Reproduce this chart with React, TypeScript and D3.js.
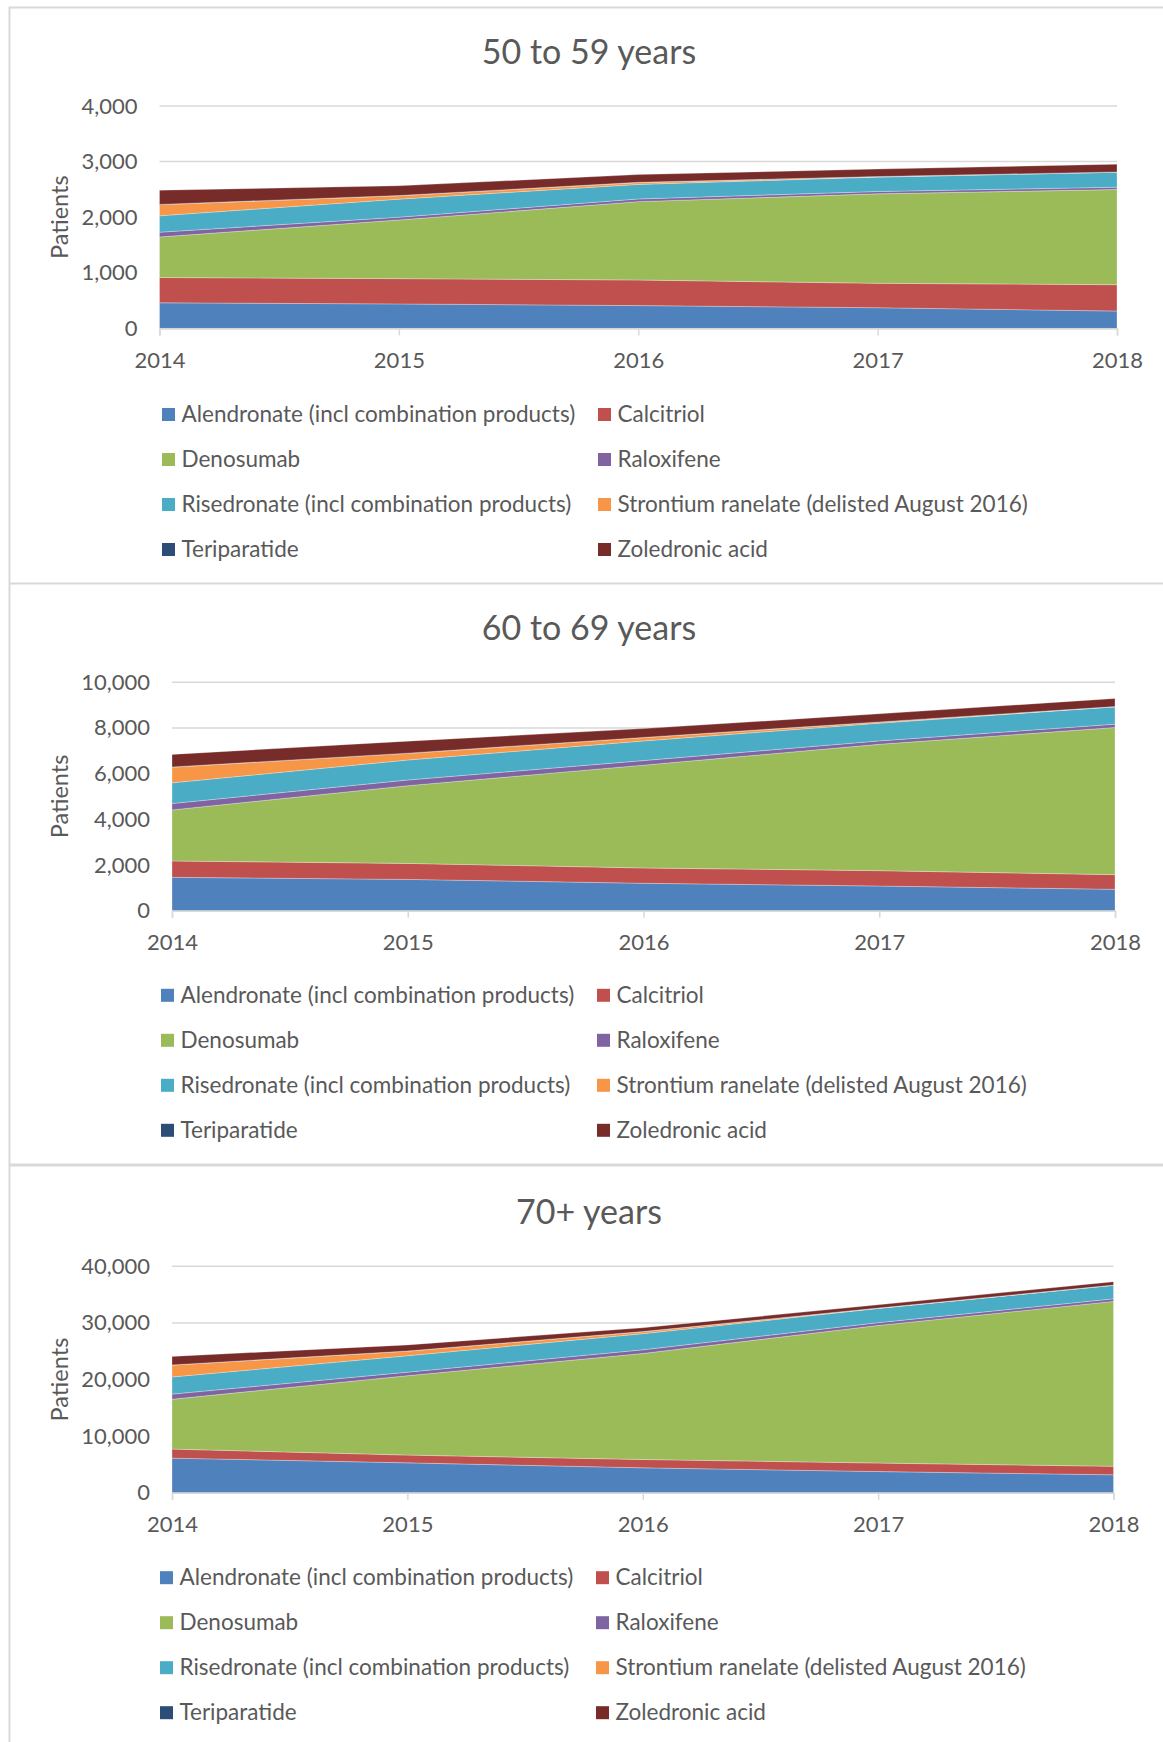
import React, { useEffect, useRef } from "react";
import * as d3 from "d3";

const years = [2014, 2015, 2016, 2017, 2018];

const seriesNames = [
  "Alendronate (incl combination products)",
  "Calcitriol",
  "Denosumab",
  "Raloxifene",
  "Risedronate (incl combination products)",
  "Strontium ranelate (delisted August 2016)",
  "Teriparatide",
  "Zoledronic acid",
];

const seriesColors = [
  "#4F81BD",
  "#C0504D",
  "#9BBB59",
  "#8064A2",
  "#4BACC6",
  "#F79646",
  "#2C4D75",
  "#772C2A",
];

// 50 to 59 years
const alendronate50 = [460, 440, 410, 372, 312];
const calcitriol50 = [455, 455, 460, 439, 474];
const denosumab50 = [730, 1055, 1410, 1609, 1712];
const raloxifene50 = [85, 50, 48, 42, 42];
const risedronate50 = [295, 325, 262, 259, 269];
const strontium50 = [200, 60, 32, 5, 0];
const teriparatide50 = [5, 5, 5, 5, 5];
const zoledronic50 = [255, 175, 140, 135, 140];
const yTicks50 = [0, 1000, 2000, 3000, 4000];

// 60 to 69 years
const alendronate60 = [1460, 1370, 1200, 1080, 935];
const calcitriol60 = [715, 700, 670, 672, 642];
const denosumab60 = [2235, 3400, 4500, 5530, 6440];
const raloxifene60 = [280, 250, 200, 150, 146];
const risedronate60 = [905, 875, 860, 775, 760];
const strontium60 = [685, 290, 145, 45, 0];
const teriparatide60 = [10, 10, 10, 10, 10];
const zoledronic60 = [550, 525, 385, 355, 355];
const yTicks60 = [0, 2000, 4000, 6000, 8000, 10000];

// 70+ years
const alendronate70 = [6120, 5290, 4410, 3750, 3180];
const calcitriol70 = [1600, 1370, 1470, 1500, 1500];
const denosumab70 = [8800, 14020, 18720, 24300, 29120];
const raloxifene70 = [910, 620, 650, 500, 450];
const risedronate70 = [3020, 2900, 2850, 2500, 2400];
const strontium70 = [2100, 810, 350, 50, 0];
const teriparatide70 = [30, 30, 30, 30, 30];
const zoledronic70 = [1510, 1080, 670, 570, 590];
const yTicks70 = [0, 10000, 20000, 30000, 40000];

const panels = [
  {
    title: "50 to 59 years",
    values: [alendronate50, calcitriol50, denosumab50, raloxifene50, risedronate50, strontium50, teriparatide50, zoledronic50],
    ticks: yTicks50,
    titleY: 50,
    top: 106,
    bottom: 328.4,
    left: 159.5,
    right: 1117,
    legendY: 414.5,
    legendX: [162, 598],
  },
  {
    title: "60 to 69 years",
    values: [alendronate60, calcitriol60, denosumab60, raloxifene60, risedronate60, strontium60, teriparatide60, zoledronic60],
    ticks: yTicks60,
    titleY: 626,
    top: 682.2,
    bottom: 910.7,
    left: 172,
    right: 1115,
    legendY: 995.3,
    legendX: [161, 597],
  },
  {
    title: "70+ years",
    values: [alendronate70, calcitriol70, denosumab70, raloxifene70, risedronate70, strontium70, teriparatide70, zoledronic70],
    ticks: yTicks70,
    titleY: 1210,
    top: 1266.3,
    bottom: 1492.8,
    left: 172,
    right: 1113.5,
    legendY: 1577.7,
    legendX: [160, 596],
  },
];

const FONT = "Lato, 'Open Sans', sans-serif";
const TEXT = "#595959";
const GRID = "#d9d9d9";

const App = () => {
  const svgRef = useRef<SVGSVGElement>(null);

  useEffect(() => {
    const svg = d3.select(svgRef.current);
    svg.selectAll("*").remove();

    // panel frames
    const frame = svg.append("g").attr("stroke", GRID).attr("fill", "none");
    frame.append("line").attr("x1", 9).attr("x2", 1163).attr("y1", 7.5).attr("y2", 7.5).attr("stroke-width", 2);
    frame.append("line").attr("x1", 9.5).attr("x2", 9.5).attr("y1", 7).attr("y2", 1742).attr("stroke-width", 2);
    frame.append("line").attr("x1", 9).attr("x2", 1163).attr("y1", 583.5).attr("y2", 583.5).attr("stroke-width", 2);
    frame.append("line").attr("x1", 9).attr("x2", 1163).attr("y1", 1165).attr("y2", 1165).attr("stroke-width", 3);

    panels.forEach((p) => {
      const g = svg.append("g").style("font-family", FONT);

      const table = years.map((yr, i) => {
        const row: any = { year: yr };
        seriesNames.forEach((n, k) => (row[n] = p.values[k][i]));
        return row;
      });
      const stacked = d3.stack().keys(seriesNames)(table);

      const x = d3.scaleLinear().domain([years[0], years[years.length - 1]]).range([p.left, p.right]);
      const y = d3
        .scaleLinear()
        .domain([0, p.ticks[p.ticks.length - 1]])
        .range([p.bottom, p.top]);

      // title
      g.append("text")
        .attr("x", 589)
        .attr("y", p.titleY)
        .attr("text-anchor", "middle")
        .attr("dominant-baseline", "central")
        .attr("fill", TEXT)
        .style("font-size", "34px")
        .text(p.title);

      // gridlines
      g.selectAll("line.grid")
        .data(p.ticks.filter((t) => t > 0))
        .enter()
        .append("line")
        .attr("x1", p.left)
        .attr("x2", p.right)
        .attr("y1", (d) => y(d))
        .attr("y2", (d) => y(d))
        .attr("stroke", GRID)
        .attr("stroke-width", 1.5);

      const area = d3
        .area<any>()
        .x((d) => x(d.data.year))
        .y0((d) => y(d[0]))
        .y1((d) => y(d[1]));

      g.selectAll("path.area")
        .data(stacked)
        .enter()
        .append("path")
        .attr("d", area)
        .attr("fill", (_, i) => seriesColors[i])
        .attr("stroke", "rgba(255,255,255,0.35)")
        .attr("stroke-width", 0.8);

      // x axis
      const xAxis = d3
        .axisBottom(x)
        .tickValues(years)
        .tickFormat(d3.format("d"))
        .tickSizeOuter(0)
        .tickSize(7);
      const xg = g.append("g").attr("transform", `translate(0,${p.bottom})`).call(xAxis);
      xg.select(".domain").attr("stroke", GRID).attr("stroke-width", 1.5);
      xg.selectAll(".tick line").attr("stroke", GRID).attr("stroke-width", 1.5);
      xg.selectAll("text")
        .attr("y", 32)
        .attr("dy", "0.35em")
        .attr("fill", TEXT)
        .style("font-size", "22px")
        .style("font-family", FONT);

      // y axis
      const yAxis = d3.axisLeft(y).tickValues(p.ticks).tickSize(0).tickPadding(22).tickFormat(d3.format(","));
      const yg = g.append("g").attr("transform", `translate(${p.left},0)`).call(yAxis);
      yg.select(".domain").remove();
      yg.selectAll("text")
        .attr("fill", TEXT)
        .style("font-size", "22px")
        .style("font-family", FONT);

      // axis title
      g.append("text")
        .attr("transform", `translate(59,${(p.top + p.bottom) / 2}) rotate(-90)`)
        .attr("text-anchor", "middle")
        .attr("dominant-baseline", "central")
        .attr("fill", TEXT)
        .style("font-size", "23.5px")
        .text("Patients");

      // legend
      const lg = g
        .selectAll("g.legend")
        .data(seriesNames)
        .enter()
        .append("g")
        .attr(
          "transform",
          (_, i) => `translate(${p.legendX[i % 2]},${p.legendY + Math.floor(i / 2) * 45})`
        );
      lg.append("rect")
        .attr("x", 0)
        .attr("y", -6.5)
        .attr("width", 13)
        .attr("height", 13)
        .attr("fill", (_, i) => seriesColors[i]);
      lg.append("text")
        .attr("x", 19.5)
        .attr("y", -1)
        .attr("dominant-baseline", "central")
        .attr("fill", TEXT)
        .style("font-size", "22.5px")
        .text((d) => d);
    });
  }, []);

  return (
    <svg
      ref={svgRef}
      width={1163}
      height={1742}
      style={{ position: "absolute", left: 0, top: 0, background: "#fff" }}
    ></svg>
  );
};

export default App;
